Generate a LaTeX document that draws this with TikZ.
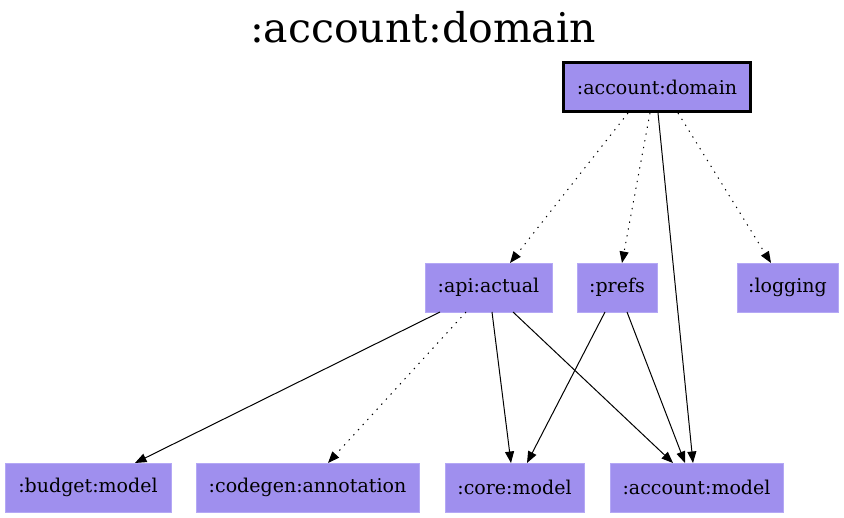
\documentclass[tikz,border=0pt]{standalone}
\usepackage{fontspec}
\setmainfont{DejaVu Serif}
\usetikzlibrary{arrows.meta}
\definecolor{boxfill}{RGB}{159,143,238}
\definecolor{boxline}{RGB}{180,168,245}
\tikzset{
  mod/.style={rectangle, fill=boxfill, draw=boxline, line width=0.8pt, inner sep=0pt, outer sep=0pt,
    minimum height=49pt, font=\fontsize{19}{22}\selectfont},
  rootmod/.style={rectangle, fill=boxfill, draw=black, line width=3pt, inner sep=0pt,
    minimum height=49pt, minimum width=187pt, font=\fontsize{19}{22}\selectfont},
  dep/.style={line width=1pt, -{Triangle[length=11.5pt,width=9pt]}},
  impl/.style={dep, dash pattern=on 1.3pt off 5.6pt},
  titletext/.style={font=\fontsize{41}{48}\selectfont, anchor=base, inner sep=0pt}
}
\begin{document}
\begin{tikzpicture}[x=1pt,y=-1pt]
\useasboundingbox (0,0) rectangle (844,518);
\node[titletext] (title) at (423,43) {:account:domain};
\node[rootmod] (dom) at (657,87) {:account:domain};
\node[mod, minimum width=127pt] (api) at (488.5,287.5) {:api:actual};
\node[mod, minimum width=80pt] (prefs) at (617,287.5) {:prefs};
\node[mod, minimum width=101pt] (log) at (787.5,287.5) {:logging};
\node[mod, minimum width=166pt] (bud) at (88,487.5) {:budget:model};
\node[mod, minimum width=223pt] (cg) at (307.5,487.5) {:codegen:annotation};
\node[mod, minimum width=139pt] (core) at (514.5,487.5) {:core:model};
\node[mod, minimum width=173pt] (am) at (696.5,487.5) {:account:model};
\draw[impl] ([xshift=-29pt]dom.south) -- ([xshift=21.5pt]api.north);
\draw[impl] ([xshift=-7pt]dom.south) -- ([xshift=5pt]prefs.north);
\draw[dep] ([xshift=1pt]dom.south) -- ([xshift=-3.5pt]am.north);
\draw[impl] ([xshift=21pt]dom.south) -- ([xshift=-16.5pt]log.north);
\draw[dep] ([xshift=-48.5pt]api.south) -- ([xshift=47pt]bud.north);
\draw[impl] ([xshift=-22.5pt]api.south) -- ([xshift=20.5pt]cg.north);
\draw[dep] ([xshift=3.5pt]api.south) -- ([xshift=-3.5pt]core.north);
\draw[dep] ([xshift=24.5pt]api.south) -- ([xshift=-23.5pt]am.north);
\draw[dep] ([xshift=-12pt]prefs.south) -- ([xshift=12.5pt]core.north);
\draw[dep] ([xshift=10pt]prefs.south) -- ([xshift=-11.5pt]am.north);
\end{tikzpicture}
\end{document}
